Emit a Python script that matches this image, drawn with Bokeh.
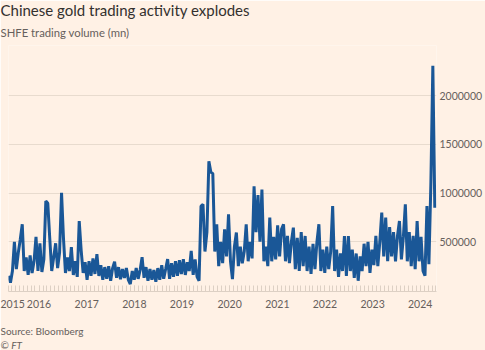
import pandas as pd
from bokeh.plotting import figure
from bokeh.models import (Range1d, FixedTicker, DatetimeTickFormatter,
                          BasicTickFormatter, Title, ColumnDataSource)
from bokeh.embed import file_html
from bokeh.resources import INLINE

# ---------------- data ----------------
title_text = "Chinese gold trading activity explodes"
subtitle_text = "SHFE trading volume (mn)"
source_text = "Source: Bloomberg"
credit_text = "© FT"

start_date = "2015-05-12"
end_date = "2024-04-22"
range_end_date = "2024-05-05"

# SHFE gold trading volume, thousands (~every 2 weeks)
volume_k = [
    150, 80, 200, 500, 220, 390, 526, 680, 200, 340,
    160, 360, 180, 300, 550, 200, 485, 190, 320, 918,
    895, 535, 200, 340, 485, 230, 390, 1003, 530, 180,
    340, 200, 445, 160, 300, 140, 713, 410, 180, 290,
    110, 300, 150, 330, 170, 373, 150, 260, 110, 240,
    120, 250, 100, 230, 295, 130, 240, 115, 220, 130,
    230, 110, 66, 200, 110, 230, 120, 210, 342, 130,
    240, 100, 220, 110, 210, 90, 230, 110, 260, 120,
    220, 322, 120, 280, 140, 300, 150, 310, 170, 322,
    160, 290, 200, 407, 160, 320, 140, 100, 867, 884,
    400, 600, 1327, 1216, 1200, 400, 680, 250, 500, 280,
    628, 350, 782, 300, 117, 450, 595, 250, 450, 280,
    400, 680, 300, 500, 330, 1071, 600, 981, 500, 1037,
    300, 450, 250, 748, 300, 550, 320, 669, 350, 630,
    680, 300, 560, 280, 500, 646, 220, 540, 200, 600,
    250, 560, 200, 450, 170, 480, 220, 500, 680, 200,
    420, 180, 450, 220, 400, 867, 200, 420, 140, 380,
    200, 560, 150, 560, 200, 420, 130, 380, 100, 350,
    200, 480, 250, 500, 180, 420, 260, 560, 250, 500,
    799, 350, 748, 300, 650, 350, 600, 300, 560, 713,
    320, 550, 884, 300, 600, 250, 560, 220, 713, 300,
    550, 200, 151, 867, 271, 1100, 2308, 850,
]

x_tick_dates = ["2015-05-12", "2016-01-01", "2017-01-01", "2018-01-01",
                "2019-01-01", "2020-01-01", "2021-01-01", "2022-01-01",
                "2023-01-01", "2024-01-01"]
y_ticks = [500000, 1000000, 1500000, 2000000]
y_min, y_max = -10350, 2516000

# ---------------- styling ----------------
BG = "#fff1e5"
LINE = "#1a5797"
GRID = "#e8dbce"
TICK = "#ddd0c4"
TEXT_DARK = "#33302e"
TEXT_MID = "#66605c"
FONT = "Lato"


def ms(d):
    return pd.Timestamp(d).value // 10**6


dates = pd.date_range(start_date, end_date, periods=len(volume_k))
volume = [v * 1000 for v in volume_k]
src = ColumnDataSource(dict(date=dates, volume=volume))

month_ticks = [ms(d) for d in pd.date_range("2015-06-01", "2024-05-01", freq="MS")]

p = figure(width=485, height=350, x_axis_type="datetime",
           y_axis_location="right", output_backend="svg",
           toolbar_location=None,
           x_range=Range1d(pd.Timestamp(start_date), pd.Timestamp(range_end_date)),
           y_range=Range1d(y_min, y_max),
           min_border_left=8, min_border_top=0, min_border_bottom=0,
           min_border_right=0)

p.background_fill_color = BG
p.border_fill_color = BG
p.outline_line_color = None

p.line("date", "volume", source=src, line_color=LINE, line_width=3.0)

# x axis
xa = p.xaxis[0]
xa.ticker = FixedTicker(ticks=[ms(d) for d in x_tick_dates], minor_ticks=month_ticks)
fmt = "%Y"
xa.formatter = DatetimeTickFormatter(microseconds=fmt, milliseconds=fmt, seconds=fmt,
                                     minsec=fmt, minutes=fmt, hourmin=fmt, hours=fmt,
                                     days=fmt, months=fmt, years=fmt)
xa.axis_line_color = TICK
xa.major_tick_line_color = TICK
xa.minor_tick_line_color = TICK
xa.major_tick_in = 6
xa.major_tick_out = 0
xa.minor_tick_in = 6
xa.minor_tick_out = 0
xa.major_label_standoff = 8
xa.major_label_text_font = FONT
xa.major_label_text_font_size = "10.5px"
xa.major_label_text_color = TEXT_MID
# blank axis label used only as vertical spacing before the source line
xa.axis_label = " "
xa.axis_label_standoff = 0
xa.axis_label_text_font_size = "8px"

# y axis
ya = p.yaxis[0]
ya.ticker = FixedTicker(ticks=y_ticks)
ya.formatter = BasicTickFormatter(use_scientific=False)
ya.axis_line_color = None
ya.major_tick_line_color = None
ya.minor_tick_line_color = None
ya.major_tick_in = 0
ya.major_tick_out = 0
ya.minor_tick_in = 0
ya.minor_tick_out = 0
ya.major_label_standoff = 3
ya.major_label_text_font = FONT
ya.major_label_text_font_size = "10.5px"
ya.major_label_text_color = TEXT_MID

p.xgrid.grid_line_color = None
p.ygrid.ticker = FixedTicker(ticks=y_ticks)
p.ygrid.grid_line_color = GRID
p.ygrid.grid_line_width = 1

# titles above (first added sits nearest the plot)
p.add_layout(Title(text=subtitle_text, align="left", offset=-8, standoff=10,
                   vertical_align="top", text_font=FONT, text_font_size="11.3px",
                   text_font_style="normal", text_color=TEXT_MID), "above")
p.add_layout(Title(text=title_text, align="left", offset=-8, standoff=0,
                   vertical_align="top", text_font=FONT, text_font_size="15px",
                   text_font_style="normal", text_color=TEXT_DARK), "above")

# source lines below
p.add_layout(Title(text=source_text, align="left", offset=-8, standoff=0,
                   vertical_align="bottom", text_font=FONT, text_font_size="10px",
                   text_font_style="normal", text_color=TEXT_MID), "below")
p.add_layout(Title(text=credit_text, align="left", offset=-8, standoff=0,
                   vertical_align="bottom", text_font=FONT, text_font_size="10px",
                   text_font_style="italic", text_color=TEXT_MID), "below")

open("out.html", "w").write(file_html(p, INLINE))
